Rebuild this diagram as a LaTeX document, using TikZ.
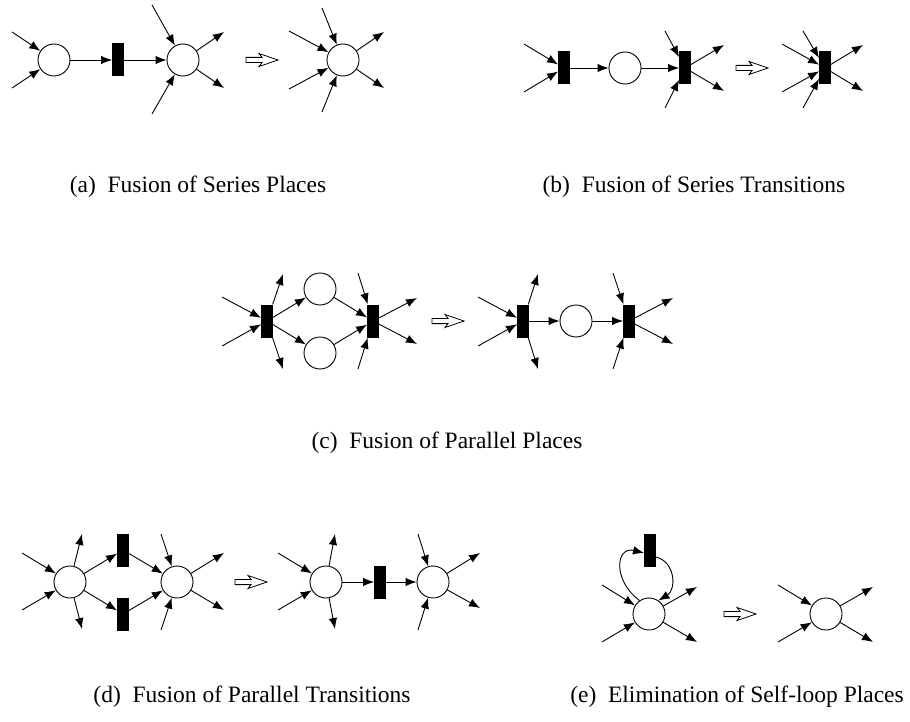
\documentclass[tikz,border=0pt]{standalone}
\usepackage{fontspec}
\setmainfont{Liberation Serif}
\usetikzlibrary{arrows.meta,calc}
\tikzset{
  place/.style={circle,draw,line width=0.9pt,minimum size=32pt,inner sep=0pt},
  trans/.style={rectangle,fill=black,minimum width=11.5pt,minimum height=33pt,inner sep=0pt},
  arc/.style={-{Latex[length=11pt,width=8.5pt]},line width=0.9pt},
  captext/.style={font=\fontsize{23.5}{28}\selectfont,inner sep=0pt},
  fusearrow/.pic={\draw[line width=0.8pt] (-16,-2.6) -- (0,-2.6) -- (-3,-6.5) -- (16,0) -- (-3,6.5) -- (0,2.6) -- (-16,2.6) -- cycle;}
}
\begin{document}
\begin{tikzpicture}[x=1pt,y=-1pt]
\useasboundingbox (0,0) rectangle (910,722);
% ---------------- (a)
\node[place] (aP1) at (54,60) {};
\node[trans] (aT) at (118,60) {};
\node[place] (aP2) at (183,60) {};
\coordinate (ai1) at (12,32); \coordinate (ai2) at (12,88);
\coordinate (ai3) at (152,5); \coordinate (ai4) at (152,114);
\coordinate (ao1) at (224,32); \coordinate (ao2) at (224,88);
\draw[arc] (ai1) -- (aP1); \draw[arc] (ai2) -- (aP1);
\draw[arc] (aP1) -- (aT); \draw[arc] (aT) -- (aP2);
\draw[arc] (ai3) -- (aP2); \draw[arc] (ai4) -- (aP2);
\draw[arc] (aP2) -- (ao1); \draw[arc] (aP2) -- (ao2);
\pic at (262,60) {fusearrow};
\node[place] (aQ) at (343,60) {};
\coordinate (aj1) at (289,31); \coordinate (aj2) at (289,89);
\coordinate (aj3) at (322,8); \coordinate (aj4) at (322,112);
\coordinate (ap1) at (384,32); \coordinate (ap2) at (384,88);
\foreach \c in {aj1,aj2,aj3,aj4} \draw[arc] (\c) -- (aQ);
\foreach \c in {ap1,ap2} \draw[arc] (aQ) -- (\c);
\node[captext] (acap) at (198,187) {(a)\enspace Fusion of Series Places};
% ---------------- (b)
\node[trans] (bT1) at (564,68) {};
\node[place] (bP) at (625,68) {};
\node[trans] (bT2) at (685,68) {};
\coordinate (bi1) at (524,44); \coordinate (bi2) at (524,92);
\coordinate (bi3) at (665,31); \coordinate (bi4) at (665,108);
\coordinate (bo1) at (724,45); \coordinate (bo2) at (724,91);
\draw[arc] (bi1) -- (bT1); \draw[arc] (bi2) -- (bT1);
\draw[arc] (bT1) -- (bP); \draw[arc] (bP) -- (bT2);
\draw[arc] (bi3) -- (bT2); \draw[arc] (bi4) -- (bT2);
\draw[arc] (bT2) -- (bo1); \draw[arc] (bT2) -- (bo2);
\pic at (752,68) {fusearrow};
\node[trans] (bT3) at (825,68) {};
\coordinate (bj1) at (782,44); \coordinate (bj2) at (782,92);
\coordinate (bj3) at (803,31); \coordinate (bj4) at (803,108);
\coordinate (bp1) at (863,45); \coordinate (bp2) at (863,91);
\foreach \c in {bj1,bj2,bj3,bj4} \draw[arc] (\c) -- (bT3);
\foreach \c in {bp1,bp2} \draw[arc] (bT3) -- (\c);
\node[captext] (bcap) at (694,187) {(b)\enspace Fusion of Series Transitions};
% ---------------- (c)
\node[trans] (cT1) at (267,321) {};
\node[place] (cPu) at (320,289) {};
\node[place] (cPl) at (320,353) {};
\node[trans] (cT2) at (373,321) {};
\coordinate (ci1) at (222,297); \coordinate (ci2) at (222,346);
\coordinate (co1) at (283,274); \coordinate (co2) at (283,369);
\coordinate (ci3) at (358,273); \coordinate (ci4) at (358,369);
\coordinate (co3) at (417,298); \coordinate (co4) at (417,344);
\draw[arc] (ci1) -- (cT1); \draw[arc] (ci2) -- (cT1);
\draw[arc] (cT1) -- (co1); \draw[arc] (cT1) -- (co2);
\draw[arc] (cT1) -- (cPu); \draw[arc] (cT1) -- (cPl);
\draw[arc] (cPu) -- (cT2); \draw[arc] (cPl) -- (cT2);
\draw[arc] (ci3) -- (cT2); \draw[arc] (ci4) -- (cT2);
\draw[arc] (cT2) -- (co3); \draw[arc] (cT2) -- (co4);
\pic at (448,321) {fusearrow};
\node[trans] (cT3) at (523,321) {};
\node[place] (cP) at (576,321) {};
\node[trans] (cT4) at (629,321) {};
\coordinate (cj1) at (478,297); \coordinate (cj2) at (478,346);
\coordinate (cp1) at (538,274); \coordinate (cp2) at (538,369);
\coordinate (cj3) at (613,273); \coordinate (cj4) at (613,369);
\coordinate (cp3) at (673,298); \coordinate (cp4) at (673,344);
\draw[arc] (cj1) -- (cT3); \draw[arc] (cj2) -- (cT3);
\draw[arc] (cT3) -- (cp1); \draw[arc] (cT3) -- (cp2);
\draw[arc] (cT3) -- (cP); \draw[arc] (cP) -- (cT4);
\draw[arc] (cj3) -- (cT4); \draw[arc] (cj4) -- (cT4);
\draw[arc] (cT4) -- (cp3); \draw[arc] (cT4) -- (cp4);
\node[captext] (ccap) at (447,443) {(c)\enspace Fusion of Parallel Places};
% ---------------- (d)
\node[place] (dP1) at (70,582) {};
\node[trans] (dTu) at (123,550) {};
\node[trans] (dTl) at (123,614) {};
\node[place] (dP2) at (177,582) {};
\coordinate (di1) at (22,553); \coordinate (di2) at (22,610);
\coordinate (do1) at (82,534); \coordinate (do2) at (82,629);
\coordinate (di3) at (161,534); \coordinate (di4) at (161,630);
\coordinate (do3) at (224,553); \coordinate (do4) at (224,610);
\draw[arc] (di1) -- (dP1); \draw[arc] (di2) -- (dP1);
\draw[arc] (dP1) -- (do1); \draw[arc] (dP1) -- (do2);
\draw[arc] (dP1) -- (dTu); \draw[arc] (dP1) -- (dTl);
\draw[arc] (dTu) -- (dP2); \draw[arc] (dTl) -- (dP2);
\draw[arc] (di3) -- (dP2); \draw[arc] (di4) -- (dP2);
\draw[arc] (dP2) -- (do3); \draw[arc] (dP2) -- (do4);
\pic at (251,582) {fusearrow};
\node[place] (dP3) at (326,582) {};
\node[trans] (dT) at (380,582) {};
\node[place] (dP4) at (433,582) {};
\coordinate (dj1) at (278,553); \coordinate (dj2) at (278,610);
\coordinate (dp1) at (335,534); \coordinate (dp2) at (335,629);
\coordinate (dj3) at (418,534); \coordinate (dj4) at (418,630);
\coordinate (dp3) at (480,553); \coordinate (dp4) at (480,608);
\draw[arc] (dj1) -- (dP3); \draw[arc] (dj2) -- (dP3);
\draw[arc] (dP3) -- (dp1); \draw[arc] (dP3) -- (dp2);
\draw[arc] (dP3) -- (dT); \draw[arc] (dT) -- (dP4);
\draw[arc] (dj3) -- (dP4); \draw[arc] (dj4) -- (dP4);
\draw[arc] (dP4) -- (dp3); \draw[arc] (dP4) -- (dp4);
\node[captext] (dcap) at (252,697) {(d)\enspace Fusion of Parallel Transitions};
% ---------------- (e)
\node[place] (eP) at (649,614) {};
\node[trans] (eT) at (650,550) {};
\coordinate (ei1) at (602,585); \coordinate (ei2) at (602,642);
\coordinate (eo1) at (697,587); \coordinate (eo2) at (697,642);
\draw[arc] (ei1) -- (eP); \draw[arc] (ei2) -- (eP);
\draw[arc] (eP) -- (eo1); \draw[arc] (eP) -- (eo2);
\draw[arc] (eP.125) .. controls (612,580) and (616,546) .. ($(eT.west)+(0,3)$);
\draw[arc] ($(eT.east)+(0,7)$) .. controls (676,562) and (676,590) .. (eP.55);
\pic at (740,614) {fusearrow};
\node[place] (eQ) at (826,614) {};
\coordinate (ej1) at (778,585); \coordinate (ej2) at (778,642);
\coordinate (ep1) at (873,587); \coordinate (ep2) at (873,642);
\draw[arc] (ej1) -- (eQ); \draw[arc] (ej2) -- (eQ);
\draw[arc] (eQ) -- (ep1); \draw[arc] (eQ) -- (ep2);
\node[captext] (ecap) at (737,697) {(e)\enspace Elimination of Self-loop Places};
\end{tikzpicture}
\end{document}
